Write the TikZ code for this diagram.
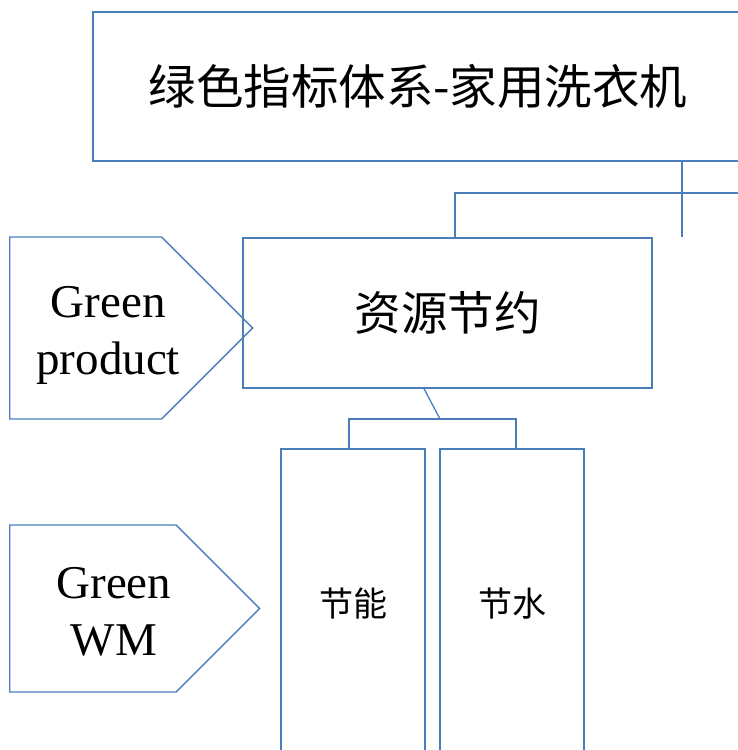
\documentclass[tikz,border=0pt]{standalone}
\usepackage{fontspec}
\setmainfont{Liberation Serif}
\newfontfamily\cjk{Noto Sans CJK SC}
\usetikzlibrary{shapes.symbols}
\definecolor{lineblue}{RGB}{74,126,187}
\tikzset{
  line/.style={draw=lineblue, line width=1.3pt},
  box/.style={line, rectangle, inner sep=0pt},
  tag/.style={line, shape=signal, signal to=east, signal pointer angle=90, inner sep=0pt},
  tagtext/.style={align=center, inner sep=0pt, font=\fontsize{47}{57}\selectfont}
}
\begin{document}
\begin{tikzpicture}[x=1pt, y=-1pt]
  \useasboundingbox (0,0) rectangle (738,750);
  \node[box, minimum width=650, minimum height=149, font=\cjk\fontsize{47.5}{55}\selectfont] (title) at (418,86.5) {绿色指标体系-家用洗衣机};
  \node[box, minimum width=409, minimum height=150, font=\cjk\fontsize{46.5}{54}\selectfont] (res) at (447.5,313) {资源节约};
  \node[box, minimum width=144, minimum height=310, font=\cjk\fontsize{34}{40}\selectfont] (energy) at (353,604) {节能};
  \node[box, minimum width=144, minimum height=310, font=\cjk\fontsize{34}{40}\selectfont] (water) at (512,604) {节水};
  \node[tag, minimum width=243, minimum height=182, anchor=west] (gp) at (9,328) {};
  \node[tag, minimum width=250, minimum height=167, anchor=west] (gwm) at (9,608.5) {};
  \node[tagtext, xshift=22.5pt, yshift=-7.5pt] (gpText) at (gp.center) {Green\\product};
  \node[tagtext, xshift=21pt, yshift=-3pt] (gwmText) at (gwm.center) {Green\\WM};
  % Draw the tree links
  \coordinate (trunk) at (682,237);
  \coordinate (barL) at (455,193);
  \coordinate (barR) at (738,193);
  \coordinate (fork) at (440,419);
  \coordinate (forkL) at (349,419);
  \coordinate (forkR) at (516,419);
  \draw[line] (title.south -| trunk) -- (trunk);
  \draw[line] (barR) -- (barL) -- (barL |- res.north);
  \draw[line] ([xshift=-23.5pt]res.south) -- (fork);
  \draw[line] (forkL |- energy.north) -- (forkL) -- (forkR) -- (forkR |- water.north);
\end{tikzpicture}
\end{document}
